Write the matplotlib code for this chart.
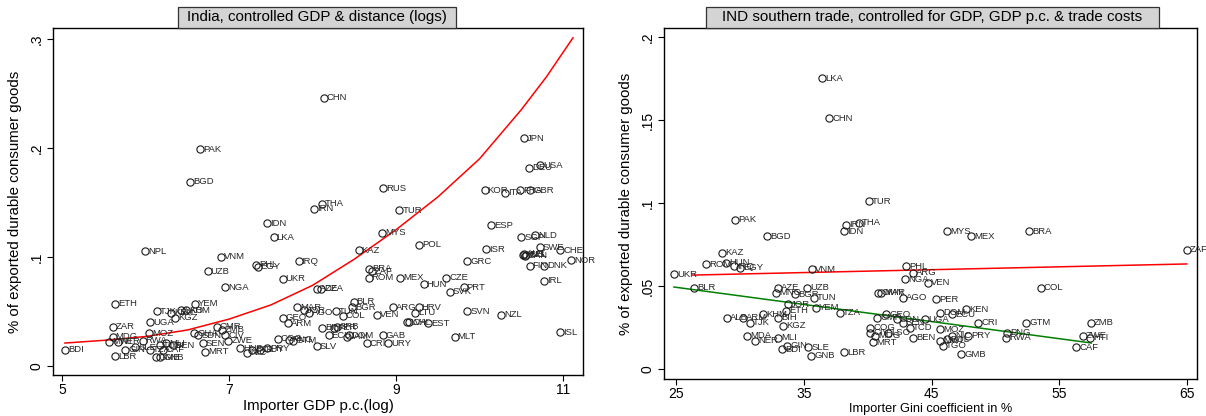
import matplotlib
matplotlib.use("Agg")
import matplotlib.pyplot as plt
from matplotlib.patches import Rectangle

plt.rcParams['font.family'] = ['Liberation Sans', 'DejaVu Sans']

# Left panel: importer GDP p.c. (log) vs share of durable consumer goods
left_codes = ["CHN", "PAK", "BGD", "JPN", "USA", "DEU", "RUS", "KOR", "ITA", "FRA",
              "GBR", "THA", "IRN", "TUR", "IDN", "LKA", "ESP", "SGP", "NLD", "MYS",
              "POL", "ISR", "CHE", "SWE", "AUT", "CAN", "BEL", "AUS", "NOR", "DNK",
              "FIN", "GRC", "IRL", "KAZ", "NPL", "VNM", "PHL", "EGY", "IRQ", "UZB",
              "UKR", "BRA", "ZAF", "ROM", "MEX", "HUN", "CZE", "SVK", "PRT", "NGA",
              "AZE", "DZA", "ETH", "YEM", "TJK", "KEN", "LAO", "KHM", "KGZ", "UGA",
              "ZAR", "MDG", "MOZ", "NER", "MWI", "GIN", "LBR", "BDI", "RWA", "SLE",
              "TZA", "TCD", "CAF", "GMB", "GNB", "BEN", "MLI", "SEN", "MRT", "GHA",
              "SDN", "CMR", "ZMB", "CIV", "ZWE", "HND", "NIC", "BOL", "GUY", "PRY",
              "COG", "PNG", "GTM", "SLV", "GEO", "ARM", "MAR", "JOR", "AGO", "TUN",
              "COL", "BLR", "BGR", "VEN", "ARG", "HRV", "LTU", "LVA", "CHL", "EST",
              "BIH", "PER", "SRB", "ECU", "DOM", "JAM", "GAB", "CRI", "URY", "MLT",
              "SVN", "NZL", "ISL"]
left_x = [8.13, 6.65, 6.53, 10.53, 10.73, 10.59, 8.84, 10.06, 10.31, 10.49,
          10.61, 8.11, 8.02, 9.04, 7.45, 7.53, 10.14, 10.50, 10.67, 8.83,
          9.28, 10.08, 10.97, 10.72, 10.53, 10.54, 10.56, 10.52, 11.10, 10.77,
          10.60, 9.85, 10.77, 8.55, 5.99, 6.90, 7.32, 7.34, 7.83, 6.74,
          7.64, 8.68, 8.71, 8.67, 9.05, 9.33, 9.60, 9.64, 9.81, 6.95,
          8.05, 8.10, 5.63, 6.59, 6.13, 6.30, 6.42, 6.48, 6.35, 6.05,
          5.60, 5.60, 6.04, 5.66, 5.56, 5.75, 5.63, 5.03, 5.96, 5.87,
          6.05, 6.17, 6.20, 6.12, 6.17, 6.32, 6.24, 6.68, 6.71, 6.58,
          6.63, 6.85, 6.91, 6.95, 6.99, 7.13, 7.21, 7.27, 7.37, 7.45,
          7.58, 7.72, 7.76, 8.05, 7.64, 7.70, 7.81, 7.89, 7.95, 8.28,
          8.36, 8.49, 8.47, 8.77, 8.96, 9.27, 9.23, 9.13, 9.16, 9.38,
          8.11, 8.26, 8.29, 8.19, 8.43, 8.41, 8.84, 8.65, 8.90, 9.70,
          9.85, 10.26, 10.97]
left_y = [0.246, 0.199, 0.169, 0.209, 0.184, 0.182, 0.163, 0.161, 0.159, 0.161,
          0.161, 0.149, 0.144, 0.143, 0.131, 0.118, 0.129, 0.118, 0.120, 0.122,
          0.111, 0.107, 0.106, 0.109, 0.103, 0.101, 0.102, 0.102, 0.097, 0.092,
          0.092, 0.096, 0.078, 0.106, 0.105, 0.100, 0.093, 0.091, 0.096, 0.087,
          0.080, 0.089, 0.087, 0.081, 0.081, 0.075, 0.081, 0.068, 0.072, 0.072,
          0.071, 0.071, 0.057, 0.057, 0.050, 0.049, 0.051, 0.051, 0.044, 0.040,
          0.036, 0.027, 0.030, 0.022, 0.022, 0.015, 0.009, 0.015, 0.023, 0.017,
          0.015, 0.019, 0.015, 0.008, 0.008, 0.019, 0.021, 0.021, 0.013, 0.030,
          0.028, 0.036, 0.033, 0.028, 0.023, 0.016, 0.012, 0.015, 0.015, 0.016,
          0.025, 0.024, 0.023, 0.018, 0.044, 0.039, 0.054, 0.051, 0.049, 0.050,
          0.046, 0.059, 0.054, 0.047, 0.054, 0.054, 0.049, 0.040, 0.040, 0.039,
          0.035, 0.035, 0.036, 0.028, 0.028, 0.027, 0.028, 0.021, 0.021, 0.027,
          0.050, 0.047, 0.031]

# fitted curve
left_fit_x = [5.03, 5.5, 6.0, 6.5, 7.0, 7.5, 8.0, 8.5, 9.0, 9.5, 10.0, 10.5, 10.8, 11.12]
left_fit_y = [0.021, 0.0235, 0.027, 0.033, 0.043, 0.056, 0.074, 0.098, 0.125, 0.155,
              0.190, 0.235, 0.265, 0.301]

# Right panel: importer Gini vs share of durable consumer goods
right_codes = ["LKA", "CHN", "TUR", "IRN", "THA", "IDN", "PAK", "BGD", "KAZ", "ROM",
               "HUN", "IRQ", "EGY", "UKR", "BLR", "VNM", "AZE", "MNG", "UZB", "BGR",
               "TUN", "JOR", "ETH", "YEM", "TZA", "KHM", "BIH", "ALB", "ARM", "TJK",
               "KGZ", "MDA", "NER", "MLI", "GIN", "BDI", "SLE", "GNB", "LBR", "OMN",
               "MAR", "AGO", "PHL", "ARG", "NGA", "VEN", "PER", "KEN", "DOM", "ECU",
               "CRI", "GTM", "ZMB", "COL", "MYS", "MEX", "BRA", "ZAF", "PNG", "RWA",
               "ZWE", "HTI", "CAF", "BEN", "MOZ", "UGA", "TCD", "GMB", "TGO", "MWI",
               "BOL", "NIC", "PRY", "CMR", "GEO", "SDN", "SEN", "COG", "CIV", "MDG",
               "LSO", "MRT"]
right_x = [36.42, 36.97, 40.10, 38.30, 39.32, 38.15, 29.62, 32.12, 28.60, 27.35,
           28.91, 29.54, 30.01, 24.84, 26.41, 35.64, 32.98, 32.82, 35.25, 34.31,
           35.80, 33.76, 33.61, 35.96, 37.83, 31.81, 32.98, 28.99, 30.24, 30.79,
           33.37, 30.56, 31.18, 32.98, 33.69, 33.29, 35.33, 35.56, 38.15, 40.81,
           41.04, 42.76, 43.00, 43.55, 42.92, 44.72, 45.34, 47.69, 45.66, 46.60,
           48.63, 52.39, 57.47, 53.56, 46.21, 48.08, 52.62, 64.98, 50.90, 50.82,
           56.85, 57.39, 56.30, 43.55, 45.66, 44.48, 43.31, 47.30, 45.89, 45.66,
           46.21, 46.60, 47.85, 40.73, 41.43, 42.29, 42.76, 40.18, 40.18, 40.57,
           41.59, 40.41]
right_y = [0.175, 0.151, 0.101, 0.087, 0.088, 0.083, 0.090, 0.080, 0.070, 0.063,
           0.064, 0.062, 0.061, 0.057, 0.049, 0.060, 0.049, 0.046, 0.049, 0.045,
           0.043, 0.039, 0.035, 0.037, 0.034, 0.033, 0.031, 0.031, 0.031, 0.028,
           0.026, 0.020, 0.017, 0.019, 0.014, 0.012, 0.013, 0.008, 0.010, 0.046,
           0.046, 0.043, 0.062, 0.058, 0.054, 0.052, 0.042, 0.036, 0.034, 0.033,
           0.028, 0.028, 0.028, 0.049, 0.083, 0.080, 0.083, 0.072, 0.022, 0.019,
           0.020, 0.019, 0.013, 0.019, 0.024, 0.030, 0.025, 0.009, 0.014, 0.017,
           0.018, 0.020, 0.020, 0.031, 0.033, 0.030, 0.028, 0.025, 0.022, 0.020,
           0.022, 0.016]

# fitted lines
right_red_x = [26.3, 64.98]
right_red_y = [0.0566, 0.0633]
right_green_x = [24.84, 57.5]
right_green_y = [0.0494, 0.0157]

left_xticks = [5, 7, 9, 11]
left_yticks = [0, 0.1, 0.2, 0.3]
left_ylabels = ["0", ".1", ".2", ".3"]
right_xticks = [25, 35, 45, 55, 65]
right_yticks = [0, 0.05, 0.1, 0.15, 0.2]
right_ylabels = ["0", ".05", ".1", ".15", ".2"]

W, H = 1206, 416


def title_box(fig, text, x0, x1):
    # grey header box sitting on top of the plot region (pixel positions)
    fig.patches.append(Rectangle((x0 / W, 1 - 28 / H), (x1 - x0) / W, 21 / H,
                                 transform=fig.transFigure, fc='#d4d4d4',
                                 ec='#333333', lw=0.9))
    fig.text((x0 + x1) / 2 / W, 1 - 17.5 / H, text, ha='center', va='center',
             fontsize=10.9)


def draw_panel(ax, xs, ys, codes, xlabel, xlabel_size):
    ax.plot(xs, ys, 'o', mfc='none', mec='#1a1a1a', mew=0.8, ms=5.2, zorder=3)
    for x, y, c in zip(xs, ys, codes):
        ax.annotate(c, xy=(x, y), xytext=(2.2, 0), textcoords='offset points',
                    ha='left', va='center', fontsize=6.8, color='#262626')
    ax.set_xlabel(xlabel, fontsize=xlabel_size, labelpad=2)
    ax.set_ylabel('% of exported durable consumer goods', fontsize=10.8, labelpad=5.5)
    for s in ax.spines.values():
        s.set_linewidth(1.0)
        s.set_color('black')
    ax.tick_params(direction='out', length=4, width=0.8, labelsize=10)
    ax.tick_params(axis='x', pad=1.5)
    ax.tick_params(axis='y', pad=2.5)
    for lab in ax.get_yticklabels():
        lab.set_rotation(90)
        lab.set_va('center')


fig = plt.figure(figsize=(12.06, 4.16), dpi=100)

ax1 = fig.add_axes([0.0439, 0.0986, 0.4395, 0.8341])
ax1.plot(left_fit_x, left_fit_y, color='red', lw=1.1, zorder=2)
ax1.set_xticks(left_xticks)
ax1.set_yticks(left_yticks)
ax1.set_yticklabels(left_ylabels)
ax1.set_xlim(4.886, 11.24)
ax1.set_ylim(-0.0083, 0.310)
draw_panel(ax1, left_x, left_y, left_codes, 'Importer GDP p.c.(log)', 10.8)
title_box(fig, 'India, controlled GDP & distance (logs)', 178, 456)

ax2 = fig.add_axes([0.5506, 0.0889, 0.4420, 0.8438])
ax2.plot(right_red_x, right_red_y, color='red', lw=1.1, zorder=2)
ax2.plot(right_green_x, right_green_y, color='green', lw=1.1, zorder=2)
ax2.set_xticks(right_xticks)
ax2.set_yticks(right_yticks)
ax2.set_yticklabels(right_ylabels)
ax2.set_xlim(24.06, 65.78)
ax2.set_ylim(-0.006, 0.2054)
draw_panel(ax2, right_x, right_y, right_codes, 'Importer Gini coefficient in %', 9.2)
title_box(fig, 'IND southern trade, controlled for GDP, GDP p.c. & trade costs', 706, 1159)

fig.savefig('out.png', dpi=100)
